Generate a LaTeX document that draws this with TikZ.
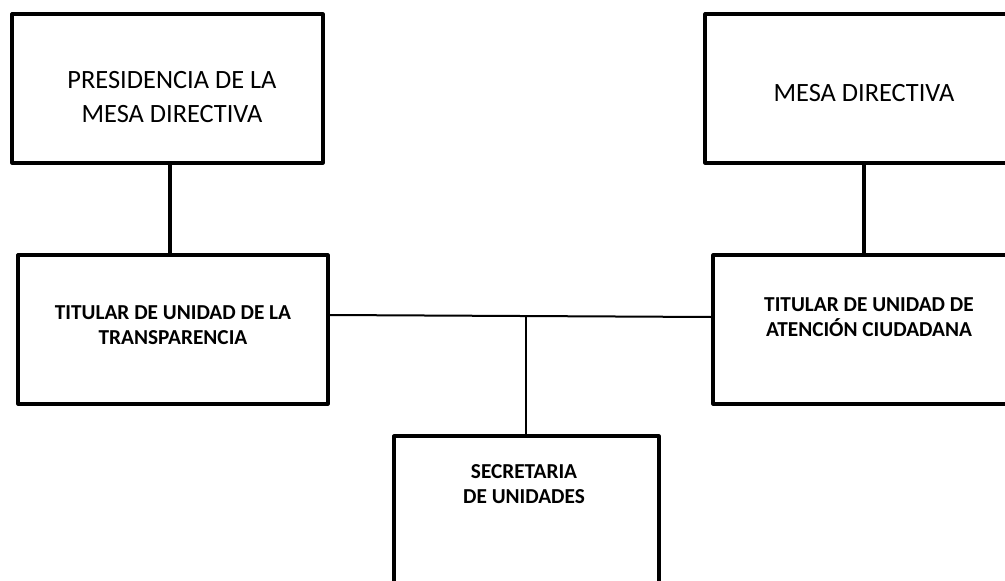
\documentclass[tikz,border=0pt]{standalone}
\usepackage{fontspec}
\setmainfont{Carlito}
\begin{document}
\begin{tikzpicture}[x=1pt,y=-1pt, line join=round, line cap=round,
	caja/.style={draw,line width=3.2pt,rectangle,inner sep=0pt},
	txtg/.style={align=center,font=\fontsize{26.4}{34}\selectfont},
	txtb/.style={align=center,font=\fontsize{21.3}{25.5}\selectfont\bfseries}]
			\useasboundingbox (0,0) rectangle (1005,581);
			\def\h{149} % alto de las cajas
			\node[caja,minimum width=311pt,minimum height=\h pt] (presi) at (167.5,88.5) {};
			\node[caja,minimum width=318pt,minimum height=\h pt] (mesa) at (864,88.5) {};
			\node[caja,minimum width=310pt,minimum height=\h pt] (transp) at (173,329.5) {};
			\node[caja,minimum width=312pt,minimum height=\h pt] (atenc) at (869,329.5) {};
			\node[caja,minimum width=265pt,minimum height=170pt] (secre) at (526.5,521) {};
			\node[txtg] (tpresi) at (172,97) {PRESIDENCIA DE LA\\MESA DIRECTIVA};
			\node[txtg] (tmesa) at (864,93) {MESA DIRECTIVA};
			\node[txtb] (ttransp) at (173,325) {TITULAR DE UNIDAD DE LA\\TRANSPARENCIA};
			\node[txtb] (tatenc) at (869,317) {TITULAR DE UNIDAD DE\\ATENCIÓN CIUDADANA};
			\node[txtb] (tsecre) at (524,484) {SECRETARIA\\DE UNIDADES};
			% conectores
			\draw[line width=3.2pt] (presi.south -| 170,0) -- (transp.north -| 170,0);
			\draw[line width=3.2pt] (mesa.south) -- (mesa.south |- atenc.north);
			\coordinate (j) at (526,316);
			\draw[line width=2pt] (transp.east |- 0,315) -- (atenc.west |- 0,317);
			\draw[line width=2pt] (j) -- (j |- secre.north);
	\end{tikzpicture}
\end{document}
